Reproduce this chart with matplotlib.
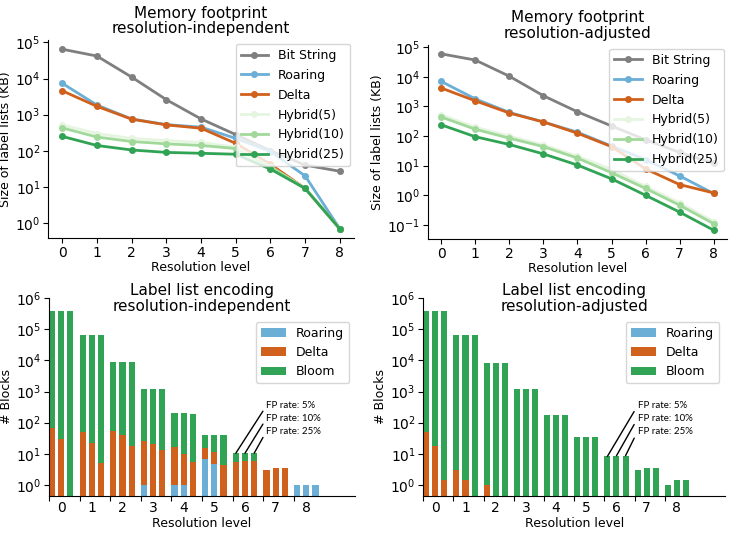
"""
Memory footprint and label list encoding charts (2x2 panel).
"""

import matplotlib

matplotlib.use("Agg")
import matplotlib.pyplot as plt  # noqa: E402
import matplotlib.ticker as mticker  # noqa: E402
import numpy as np  # noqa: E402

levels = list(range(9))

# ---- memory footprint (KB) ----
series_names = ["Bit String", "Roaring", "Delta", "Hybrid(5)", "Hybrid(10)", "Hybrid(25)"]
series_colors = ["#7f7f7f", "#6baed6", "#d0611c", "#e5f5e0", "#a1d99b", "#31a354"]

mem_independent = {
    "Bit String": [65000, 42000, 11000, 2600, 760, 280, 100, 40, 27],
    "Roaring": [7400, 1850, 760, 530, 450, 220, 95, 20, 0.68],
    "Delta": [4600, 1700, 750, 520, 420, 160, 42, 9, 0.68],
    "Hybrid(5)": [520, 300, 220, 190, 170, 125, 36, 9, 0.68],
    "Hybrid(10)": [430, 240, 180, 155, 140, 115, 36, 9, 0.68],
    "Hybrid(25)": [250, 140, 105, 90, 85, 80, 31, 9, 0.68],
}

mem_adjusted = {
    "Bit String": [60000, 37000, 10500, 2300, 660, 220, 75, 28, 12],
    "Roaring": [7000, 1800, 630, 300, 135, 46, 16, 4.5, 1.15],
    "Delta": [4200, 1550, 600, 300, 125, 44, 7.8, 2.3, 1.2],
    "Hybrid(5)": [520, 200, 100, 50, 21, 7.5, 2.0, 0.55, 0.13],
    "Hybrid(10)": [440, 170, 85, 44, 18, 5.8, 1.7, 0.46, 0.11],
    "Hybrid(25)": [240, 95, 52, 25, 10.5, 3.6, 1.0, 0.27, 0.066],
}

# ---- label list encoding: number of blocks per encoding ----
# three bars per level (FP rate 5%, 10%, 25%)
enc_names = ["Roaring", "Delta", "Bloom"]
enc_colors = ["#6baed6", "#d0611c", "#31a354"]
fp_labels = ["FP rate: 5%", "FP rate: 10%", "FP rate: 25%"]

indep_roaring = [
    [0, 0, 0], [0, 0, 0], [0, 0, 0], [1, 0, 0], [1, 1, 0],
    [6.6, 4.8, 0], [0, 0, 0], [0, 0, 0], [1, 1, 1],
]
indep_delta = [
    [65, 30, 0], [50, 23, 5.2], [55, 40, 18], [24, 20, 13], [16, 9, 5.5],
    [9, 7, 4.5], [5.5, 5.7, 5.7], [3.0, 3.4, 3.4], [0, 0, 0],
]
indep_bloom = [
    [380000, 380000, 380000], [63000, 63000, 63000], [8800, 8800, 8800],
    [1200, 1200, 1200], [190, 190, 190], [25, 28, 35],
    [5, 4.8, 4.8], [0, 0, 0], [0, 0, 0],
]

adj_roaring = [[0, 0, 0] for _ in levels]
adj_delta = [
    [52, 18, 1.4], [3, 1.4, 0], [1, 0, 0], [0, 0, 0], [0, 0, 0],
    [0, 0, 0], [0, 0, 0], [0, 0, 0], [0, 0, 0],
]
adj_bloom = [
    [380000, 380000, 380000], [63000, 63000, 63000], [8500, 8500, 8500],
    [1200, 1200, 1200], [175, 175, 175], [34, 34, 34],
    [8.3, 8.7, 8.7], [3.0, 3.5, 3.5], [0.97, 1.5, 1.5],
]

# annotation text heights (in # blocks) for the FP rate labels
fp_text_y = [350, 137, 53]

plt.rcParams["font.family"] = "DejaVu Sans"
fig = plt.figure(figsize=(7.31, 5.36), dpi=100)

ax_tl = fig.add_axes([0.066, 0.556, 0.418, 0.369])
ax_tr = fig.add_axes([0.585, 0.554, 0.41, 0.362])
ax_bl = fig.add_axes([0.067, 0.075, 0.419, 0.369])
ax_br = fig.add_axes([0.579, 0.075, 0.413, 0.369])


def decade_ticks(ax):
    ax.yaxis.set_major_locator(mticker.LogLocator(base=10, numticks=20))
    ax.yaxis.set_minor_locator(mticker.NullLocator())


def draw_lines(ax, data, title):
    for name, color in zip(series_names, series_colors):
        ax.plot(levels, data[name], color=color, marker="o", markersize=4,
                linewidth=2, label=name)
    ax.set_yscale("log")
    decade_ticks(ax)
    ax.set_xticks(levels)
    ax.set_title(title, fontsize=11, linespacing=1.05, pad=5)
    ax.set_xlabel("Resolution level", fontsize=9, labelpad=1)
    ax.set_ylabel("Size of label lists (KB)", fontsize=9, labelpad=2)
    ax.legend(loc="upper right", fontsize=9, framealpha=0.8,
              handlelength=2.2, labelspacing=0.55, borderaxespad=0.3)
    ax.spines["top"].set_visible(False)
    ax.spines["right"].set_visible(False)
    ax.tick_params(labelsize=10, pad=2)


def draw_bars(ax, roaring, delta, bloom, title):
    roaring = np.array(roaring, dtype=float)
    delta = np.array(delta, dtype=float)
    bloom = np.array(bloom, dtype=float)
    width = 0.2
    offsets = [0.1, 0.4, 0.7]
    for k, off in enumerate(offsets):
        x = np.array(levels) + off
        r = roaring[:, k]
        d = delta[:, k]
        b = bloom[:, k]
        ax.bar(x, r, width, color=enc_colors[0], label=enc_names[0] if k == 0 else None)
        ax.bar(x, d, width, bottom=r, color=enc_colors[1],
               label=enc_names[1] if k == 0 else None)
        ax.bar(x, b, width, bottom=r + d, color=enc_colors[2],
               label=enc_names[2] if k == 0 else None)
    ax.set_yscale("log")
    decade_ticks(ax)
    ax.set_ylim(0.45, 1e6)
    ax.set_xlim(0, 10)
    ax.set_xticks(levels)
    ax.set_xticklabels([])
    ax.set_xticks(np.array(levels) + 0.4, minor=True)
    ax.set_xticklabels([str(v) for v in levels], minor=True)
    ax.tick_params(axis="x", which="minor", length=0, labelsize=10, pad=4)
    ax.tick_params(axis="x", which="major", length=3.5)
    ax.tick_params(axis="y", labelsize=10, pad=2)
    ax.set_title(title, fontsize=11, linespacing=1.05, y=0.936, pad=0)
    ax.set_xlabel("Resolution level", fontsize=9, labelpad=1)
    ax.set_ylabel("# Blocks", fontsize=9, labelpad=2)
    ax.legend(loc="upper right", bbox_to_anchor=(0.98, 0.88), fontsize=9,
              framealpha=0.8, handlelength=2.0, labelspacing=0.5,
              borderaxespad=0)
    ax.spines["top"].set_visible(False)
    ax.spines["right"].set_visible(False)

    # FP rate callouts on level 6 bars
    lvl = 6
    for k, off in enumerate(offsets):
        top = roaring[lvl, k] + delta[lvl, k] + bloom[lvl, k]
        ax.annotate(fp_labels[k], xy=(lvl + off, top), xytext=(7.1, fp_text_y[k]),
                    textcoords="data", ha="left", va="center",
                    fontsize=7, family=["Lato", "DejaVu Sans"],
                    arrowprops=dict(arrowstyle="-", color="black", lw=1.0,
                                    shrinkA=1, shrinkB=0, relpos=(0, 0.5)))


draw_lines(ax_tl, mem_independent, "Memory footprint\nresolution-independent")
draw_lines(ax_tr, mem_adjusted, "Memory footprint\nresolution-adjusted")
draw_bars(ax_bl, indep_roaring, indep_delta, indep_bloom,
          "Label list encoding\nresolution-independent")
draw_bars(ax_br, adj_roaring, adj_delta, adj_bloom,
          "Label list encoding\nresolution-adjusted")

fig.savefig("out.png", dpi=100)
plt.close(fig)
